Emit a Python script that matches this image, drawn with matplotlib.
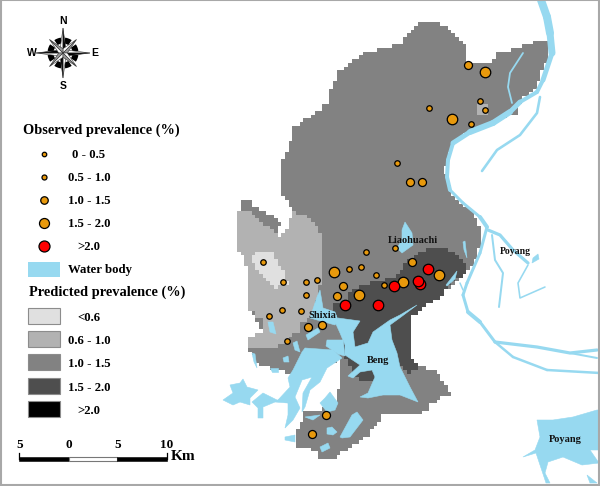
import numpy as np
import matplotlib
matplotlib.use("Agg")
import matplotlib.pyplot as plt
from matplotlib.patches import Polygon, Rectangle, Wedge

serif = "Liberation Serif"
sans = "Liberation Sans"

C_LIGHTEST, C_LIGHT, C_MID, C_DARK, C_BLACK = "#E0E0E0", "#B2B2B2", "#828282", "#4E4E4E", "#000000"
C_WATER, C_ORANGE, C_RED = "#97D9F0", "#E8990C", "#FF0000"

# --- predicted prevalence zones (map outlines, image coordinates)
main_zone = [(420,22),(438,22),(453,33),(465,48),(468,62),(480,62),(488,65),(497,53),(513,48),(537,40),(547,40),
             (548,60),(537,87),(520,103),(517,113),(493,125),(467,133),(450,150),(445,173),(453,197),(463,207),
             (473,213),(480,230),(480,247),(472,268),(460,280),(430,305),(410,317),(412,360),(423,367),(438,373),
             (450,395),(442,398),(433,405),(422,415),(398,415),(383,413),(377,427),(360,443),(347,450),(332,460),
             (320,460),(318,452),(297,445),(297,428),(305,412),(320,410),(338,402),(338,387),(342,385),(341,360),
             (332,362),(300,372),(288,372),(277,370),(255,363),(253,350),(248,347),(248,338),(263,333),(255,315),
             (248,307),(248,290),(250,287),(245,260),(238,250),(238,212),(242,208),(242,200),(252,200),(252,208),
             (265,210),(280,225),(277,235),(290,228),(292,212),(290,203),(283,190),(282,160),(290,140),(293,127),
             (310,115),(327,103),(332,85),(335,75),(350,60),(368,52),(383,48),(402,42),(413,25)]
light_zone = [(238,212),(248,210),(263,225),(277,235),(288,228),(292,212),(308,217),(320,233),(322,243),(322,285),
              (318,295),(310,318),(303,323),(300,332),(283,345),(277,348),(248,348),(248,337),(260,333),(263,320),
              (248,307),(248,290),(250,287),(245,260),(238,250)]
lightest_zone = [(252,257),(257,252),(270,252),(285,275),(287,285),(277,288),(268,280),(255,268)]
patch_zone = [(476,103),(487,103),(487,115),(476,115)]
dark_zone = [(332,305),(343,300),(352,290),(360,285),(383,280),(397,275),(402,265),(417,253),(420,250),(440,248),
             (450,253),(460,258),(468,271),(450,285),(443,297),(427,307),(410,317),(411,360),(423,367),(412,373),
             (405,368),(375,382),(360,380),(350,368),(345,357),(345,333),(337,320)]

# --- water bodies
lake_beng = [(417,305),(400,315),(390,320),(373,332),(368,343),(355,347),(353,332),(360,321),(338,318),(335,322),
             (340,333),(345,345),(345,355),(360,365),(348,376),(353,378),(360,372),(372,370),(375,377),(368,393),
             (360,397),(368,398),(383,395),(400,395),(418,402),(410,387),(400,367),(397,353),(392,340),(390,325),
             (401,317)]
lake_shixia = [(320,290),(323,308),(335,312),(338,320),(335,325),(310,318),(317,297)]
channel = [(327,340),(343,340),(345,356),(338,354),(326,346)]
lake_west = [(302,352),(305,348),(333,350),(342,358),(327,368),(320,382),(310,390),(305,407),(302,412),(303,393),
             (312,377),(302,380),(295,397),(300,408),(293,420),(285,428),(288,415),(288,403),(278,400),(290,387),
             (288,378),(293,370)]
lake_far1 = [(223,400),(233,393),(230,385),(240,383),(243,379),(247,387),(258,390),(250,398),(250,405),(240,402),(233,405)]
lake_far2 = [(252,402),(263,393),(277,400),(288,400),(288,403),(275,402),(263,407),(263,418),(258,418),(258,408)]
lake_s1 = [(340,437),(352,415),(357,412),(363,420),(350,437),(342,438)]
lake_s2 = [(327,428),(332,427),(337,432),(333,435),(327,434)]
lake_s3 = [(320,447),(328,443),(330,448),(322,452)]
lake_s4 = [(330,392),(338,403),(335,410),(327,412),(320,403),(325,398)]
lake_s5 = [(305,417),(320,415),(313,420)]
lake_s6 = [(285,437),(295,435),(295,442),(285,440)]
lake_liao = [(405,222),(412,233),(413,245),(402,253),(397,248),(402,240),(402,230)]
lake_poyang = [(537,420),(553,420),(573,417),(597,410),(599,410),(599,450),(590,450),(599,463),(582,465),(563,457),
               (548,462),(545,473),(550,483),(546,483),(540,465),(536,453),(523,457),(535,450),(540,437)]
lake_poyang2 = [(587,475),(597,483),(590,483)]
lake_head = [(533,258),(538,254),(539,259),(532,263)]
ponds = [[(463,242),(465,241),(467,258),(464,250)], [(446,285),(457,271),(455,279),(447,286)],
         [(268,322),(273,322),(276,334),(270,332)], [(293,343),(297,341),(300,352),(295,350)],
         [(252,353),(255,354),(257,368),(254,362)], [(270,368),(278,368),(278,372),(272,372)],
         [(283,358),(288,356),(289,362),(284,362)], [(306,335),(318,328),(320,332),(308,340)]]

river_main = [(541,0),(547,17),(550,33),(552,53),(543,80),(537,92),(520,102),(510,112),(493,123),(470,132),(453,143),
              (448,160),(447,177),(450,190),(463,203),(480,217),(487,227),(480,253),(467,283),(463,295),(468,312),
              (480,322),(495,342),(513,357),(547,370),(600,373)]
river_main_w = [8,8,7,5,4,4,5,6,6,5,4,4,4,3,3,4,3,3,3,3,4,3,2.5,2.5,2.5]
river_lines = [
    ([(523,53),(510,73),(508,87),(512,103)], 1.8),
    ([(540,97),(537,113),(520,135),(497,150),(482,171)], 2.6),
    ([(495,342),(537,347),(570,353),(597,350)], 3.2),
    ([(570,353),(597,358)], 2.0),
    ([(488,230),(500,235),(513,250),(528,263)], 3.2),
    ([(528,265),(518,283),(520,298),(545,287)], 1.6),
    ([(492,235),(495,260),(503,273),(499,307)], 2.0),
    ([(460,283),(463,290)], 1.5),
]

# --- observed prevalence sites
sites_small = [(263,262),(283,282),(269,316),(366,252),(349,269),(361,267),(395,248),(376,275),(384,285),(306,282),
               (317,280),(306,295),(282,310),(301,311),(287,341),(480,101),(485,110),(429,108),(397,163),(471,124)]
sites_medium = [(337,296),(343,286),(412,262),(308,327),(322,325),(468,65),(410,182),(422,182),(326,415),(312,434)]
sites_large = [(334,272),(359,295),(403,282),(439,275),(485,72),(452,119)]
sites_red = [(345,305),(378,305),(394,286),(420,284),(418,281),(428,269)]

# --- legend
observed_title = "Observed prevalence (%)"
observed_labels = ["0 - 0.5", "0.5 - 1.0", "1.0 - 1.5", "1.5 - 2.0", ">2.0"]
predicted_title = "Predicted prevalence (%)"
predicted_labels = ["<0.6", "0.6 - 1.0", "1.0 - 1.5", "1.5 - 2.0", ">2.0"]
place_names = [("Liaohuachi",413,240,7.5),("Poyang",515,251,7),("Shixia",322,315,7.5),("Beng",378,360,7.5),("Poyang",565,439,7.5)]
scale_labels = ["5", "0", "5", "10"]


def stair(poly, cell=3.7):
    """Turn an outline into the blocky raster edge of the prediction grid."""
    pts = []
    n = len(poly)
    for i in range(n):
        a, b = np.array(poly[i], float), np.array(poly[(i + 1) % n], float)
        k = max(1, int(np.hypot(*(b - a)) / cell))
        for t in np.arange(k) / k:
            p = np.round((a + (b - a) * t) / cell) * cell
            if pts and pts[-1][0] != p[0] and pts[-1][1] != p[1]:
                pts.append((p[0], pts[-1][1]))
            pts.append((p[0], p[1]))
    return pts


fig = plt.figure(figsize=(6.0, 4.86), dpi=100)
ax = fig.add_axes([0, 0, 1, 1])
ax.set_xlim(0, 600); ax.set_ylim(486, 0); ax.axis("off")

for poly, col, z in [(main_zone, C_MID, 1), (patch_zone, C_LIGHT, 1.5), (light_zone, C_LIGHT, 2),
                     (lightest_zone, C_LIGHTEST, 3), (dark_zone, C_DARK, 2.5)]:
    ax.add_patch(Polygon(stair(poly), closed=True, fc=col, ec="none", zorder=z))

for poly in [lake_beng, lake_shixia, channel, lake_west, lake_far1, lake_far2, lake_s1, lake_s2, lake_s3, lake_s4,
             lake_s5, lake_s6, lake_liao, lake_poyang, lake_poyang2, lake_head] + ponds:
    ax.add_patch(Polygon(poly, closed=True, fc=C_WATER, ec=C_WATER, lw=0.4, zorder=4))

for i in range(len(river_main) - 1):
    (x0, y0), (x1, y1) = river_main[i], river_main[i + 1]
    ax.plot([x0, x1], [y0, y1], color=C_WATER, lw=river_main_w[i] * 0.72, solid_capstyle="round", zorder=4)
for line, w in river_lines:
    ax.plot(*zip(*line), color=C_WATER, lw=w * 0.72, solid_capstyle="round", zorder=4)

def dots(pts, d, col, z=6):
    ax.scatter(*zip(*pts), s=(d * 0.72) ** 2, c=col, edgecolors="black", linewidths=0.9, zorder=z)

dots(sites_small, 5.5, C_ORANGE)
dots(sites_medium, 8, C_ORANGE)
dots(sites_large, 10.5, C_ORANGE)
dots(sites_red, 10.5, C_RED, 7)

for name, x, y, fs in place_names:
    ax.text(x, y, name, family=serif, weight="bold", size=fs, ha="center", va="center", color="#111111", zorder=8)

# observed legend
ax.text(23, 130, observed_title, family=serif, weight="bold", size=10.4, va="center", ha="left")
obs_y = [154, 177, 200, 223, 246]
obs_d = [4.5, 5, 7.5, 10, 11]
obs_c = [C_ORANGE] * 4 + [C_RED]
for y, d, c, lab in zip(obs_y, obs_d, obs_c, observed_labels):
    dots([(44, y)], d, c)
    ax.text(89, y + 1, lab, family=serif, weight="bold", size=9.2, ha="center", va="center")
ax.add_patch(Rectangle((28, 262), 32, 15, fc=C_WATER, ec="none"))
ax.text(68, 270, "Water body", family=serif, weight="bold", size=9.2, va="center", ha="left")

# predicted legend
ax.text(29, 292, predicted_title, family=serif, weight="bold", size=10.4, va="center", ha="left")
pred_y = [308, 331, 354, 378, 401]
pred_c = [C_LIGHTEST, C_LIGHT, C_MID, C_DARK, C_BLACK]
for y, c, lab in zip(pred_y, pred_c, predicted_labels):
    ax.add_patch(Rectangle((28, y), 32, 16, fc=c, ec="#8c8c8c", lw=0.8))
    ax.text(89, y + 10, lab, family=serif, weight="bold", size=9.2, ha="center", va="center")

# scale bar
ax.add_patch(Rectangle((19, 457), 50, 4, fc="black", ec="black", lw=0.4))
ax.add_patch(Rectangle((69, 457), 48, 4, fc="white", ec="#777777", lw=0.8))
ax.add_patch(Rectangle((117, 457), 50, 4, fc="black", ec="black", lw=0.4))
for x in (19, 167):
    ax.plot([x, x], [453, 459], color="black", lw=0.9)
for x, lab in zip((20, 69, 118, 167), scale_labels):
    ax.text(x, 445, lab, family=serif, weight="bold", size=9.5, ha="center", va="center")
ax.text(171, 456, "Km", family=serif, weight="bold", size=11, ha="left", va="center")

# north arrow
cx, cy = 63, 53
for ang in (45, 135, 225, 315):
    for off in (-24, 24):
        ax.add_patch(Wedge((cx, cy), 15.5, ang + off - 13, ang + off + 13, width=6, fc="black", ec="none", zorder=2))
for ang, r, hw, cols in [(0, 27, 3, ("white", "black")), (90, 25, 3, ("white", "black")),
                         (180, 27, 3, ("white", "black")), (270, 25, 3, ("white", "black")),
                         (45, 19, 3, ("white", "#999999")), (135, 19, 3, ("white", "#999999")),
                         (225, 19, 3, ("white", "#999999")), (315, 19, 3, ("white", "#999999"))]:
    a = np.radians(ang)
    tip = (cx + r * np.cos(a), cy - r * np.sin(a))
    for s, col in zip((1, -1), cols):
        side = (cx + hw * np.cos(a + s * np.pi / 2) + 3 * np.cos(a),
                cy - hw * np.sin(a + s * np.pi / 2) - 3 * np.sin(a))
        ax.add_patch(Polygon([(cx, cy), side, tip], closed=True, fc=col, ec="#333333", lw=0.4, zorder=3))
for lab, x, y in [("N", 63, 21), ("S", 63, 86), ("W", 32, 53), ("E", 95, 53)]:
    ax.text(x, y, lab, family=sans, weight="bold", size=7.5, ha="center", va="center")

# neatline
ax.add_patch(Rectangle((0.5, 0.5), 598, 484, fc="none", ec="#A8A8A8", lw=1.5, zorder=9))

fig.savefig("out.png", dpi=100, facecolor="white")
